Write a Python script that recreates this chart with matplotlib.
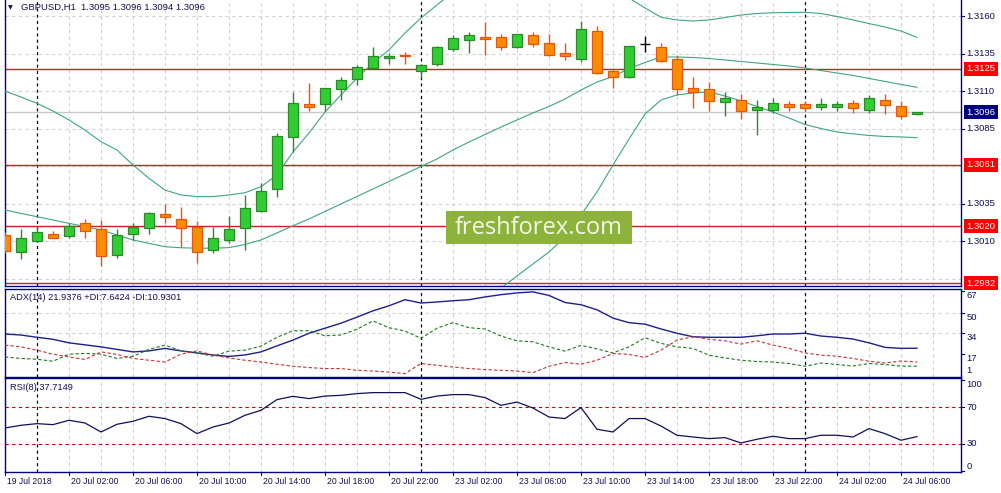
import matplotlib
matplotlib.use("Agg")
import numpy as np
import matplotlib.pyplot as plt
import matplotlib.transforms as mtransforms
from matplotlib.patches import Rectangle

# ── Data (GBPUSD H1, 19 Jul 22:00 -> 24 Jul 07:00) ───────────────────────────
OPEN = [1.30142, 1.30027, 1.30104, 1.30147, 1.30138, 1.30220, 1.30180, 1.30007, 1.30147, 1.30187,
        1.30280, 1.30247, 1.30198, 1.30042, 1.30107, 1.30187, 1.30304, 1.30447, 1.30794, 1.31014,
        1.31014, 1.31114, 1.31180, 1.31254, 1.31320, 1.31344, 1.31236, 1.31280, 1.31380, 1.31440,
        1.31460, 1.31460, 1.31398, 1.31474, 1.31420, 1.31354, 1.31314, 1.31500, 1.31236, 1.31198,
        1.31416, 1.31398, 1.31314, 1.31120, 1.31114, 1.31031, 1.31040, 1.30978, 1.30978, 1.31016,
        1.31016, 1.30998, 1.30998, 1.31022, 1.30978, 1.31042, 1.31002, 1.30950]
HIGH = [1.30162, 1.30180, 1.30194, 1.30169, 1.30224, 1.30247, 1.30240, 1.30180, 1.30220, 1.30296,
        1.30347, 1.30327, 1.30238, 1.30198, 1.30269, 1.30409, 1.30487, 1.30820, 1.31098, 1.31158,
        1.31124, 1.31198, 1.31276, 1.31398, 1.31354, 1.31362, 1.31280, 1.31402, 1.31476, 1.31494,
        1.31562, 1.31482, 1.31484, 1.31494, 1.31480, 1.31420, 1.31571, 1.31536, 1.31258, 1.31404,
        1.31469, 1.31424, 1.31342, 1.31198, 1.31160, 1.31094, 1.31082, 1.31042, 1.31054, 1.31036,
        1.31036, 1.31054, 1.31036, 1.31042, 1.31076, 1.31082, 1.31036, 1.30962]
LOW = [1.30022, 1.29982, 1.30102, 1.30124, 1.30124, 1.30124, 1.29938, 1.29987, 1.30107, 1.30147,
       1.30220, 1.30064, 1.29958, 1.30020, 1.30087, 1.30042, 1.30298, 1.30398, 1.30698, 1.30971,
       1.30971, 1.31042, 1.31142, 1.31250, 1.31280, 1.31280, 1.31187, 1.31269, 1.31371, 1.31358,
       1.31342, 1.31376, 1.31391, 1.31398, 1.31336, 1.31309, 1.31298, 1.31214, 1.31120, 1.31191,
       1.31362, 1.31296, 1.31078, 1.30991, 1.30971, 1.30936, 1.30916, 1.30809, 1.30958, 1.30971,
       1.30969, 1.30976, 1.30971, 1.30958, 1.30954, 1.30949, 1.30916, 1.30940]
CLOSE = [1.30038, 1.30120, 1.30160, 1.30124, 1.30204, 1.30167, 1.30002, 1.30140, 1.30198, 1.30287,
         1.30260, 1.30187, 1.30029, 1.30120, 1.30180, 1.30320, 1.30438, 1.30802, 1.31020, 1.30998,
         1.31120, 1.31174, 1.31260, 1.31336, 1.31334, 1.31336, 1.31276, 1.31394, 1.31454, 1.31474,
         1.31449, 1.31394, 1.31480, 1.31414, 1.31340, 1.31336, 1.31514, 1.31220, 1.31194, 1.31400,
         1.31416, 1.31300, 1.31114, 1.31098, 1.31038, 1.31054, 1.30971, 1.30994, 1.31022, 1.30998,
         1.30991, 1.31016, 1.31016, 1.30991, 1.31054, 1.31011, 1.30938, 1.30960]

BB_UPPER = [1.31102, 1.31062, 1.31020, 1.30969, 1.30909, 1.30842, 1.30764, 1.30709, 1.30609, 1.30520,
            1.30442, 1.30409, 1.30398, 1.30398, 1.30409, 1.30424, 1.30464, 1.30542, 1.30696, 1.30822,
            1.30962, 1.31076, 1.31189, 1.31289, 1.31376, 1.31489, 1.31589, 1.31676, 1.31762, 1.31829,
            1.31882, 1.31922, 1.31949, 1.31962, 1.31962, 1.31956, 1.31942, 1.31896, 1.31802, 1.31722,
            1.31656, 1.31594, 1.31576, 1.31569, 1.31576, 1.31592, 1.31609, 1.31619, 1.31624, 1.31626,
            1.31627, 1.31619, 1.31599, 1.31576, 1.31552, 1.31529, 1.31502, 1.31460]
BB_MID = [1.30309, 1.30286, 1.30264, 1.30242, 1.30220, 1.30198, 1.30176, 1.30142, 1.30109, 1.30086,
          1.30064, 1.30057, 1.30054, 1.30054, 1.30058, 1.30079, 1.30109, 1.30156, 1.30204, 1.30249,
          1.30299, 1.30349, 1.30399, 1.30449, 1.30499, 1.30549, 1.30599, 1.30649, 1.30709, 1.30762,
          1.30812, 1.30862, 1.30909, 1.30956, 1.30999, 1.31049, 1.31109, 1.31162, 1.31198, 1.31252,
          1.31292, 1.31329, 1.31329, 1.31326, 1.31319, 1.31309, 1.31299, 1.31289, 1.31279, 1.31269,
          1.31256, 1.31239, 1.31222, 1.31206, 1.31186, 1.31166, 1.31146, 1.31127]
BB_LOWER = [1.29516, 1.29509, 1.29509, 1.29516, 1.29529, 1.29556, 1.29589, 1.29576, 1.29609, 1.29649,
            1.29689, 1.29709, 1.29709, 1.29709, 1.29709, 1.29736, 1.29756, 1.29769, 1.29716, 1.29676,
            1.29636, 1.29622, 1.29616, 1.29609, 1.29622, 1.29616, 1.29609, 1.29622, 1.29656, 1.29696,
            1.29742, 1.29789, 1.29869, 1.29949, 1.30029, 1.30129, 1.30276, 1.30429, 1.30609, 1.30782,
            1.30949, 1.31042, 1.31076, 1.31089, 1.31096, 1.31069, 1.31036, 1.30999, 1.30962, 1.30922,
            1.30879, 1.30852, 1.30829, 1.30816, 1.30806, 1.30799, 1.30796, 1.30791]

ADX = [33.2, 32.4, 30.6, 29.0, 26.2, 24.6, 23.0, 21.0, 19.0, 19.8,
       21.8, 19.8, 18.2, 16.6, 15.4, 16.6, 19.0, 23.8, 28.4, 33.8,
       37.8, 41.8, 46.6, 51.6, 55.6, 60.4, 57.8, 58.6, 59.6, 60.4,
       62.6, 64.4, 65.8, 66.6, 63.8, 58.2, 56.4, 52.4, 45.8, 42.2,
       41.0, 37.2, 33.8, 31.0, 30.6, 30.6, 30.6, 31.8, 33.2, 33.2,
       33.8, 31.6, 30.6, 29.2, 26.2, 22.6, 21.8, 21.94]
PLUS_DI = [15.0, 13.8, 13.2, 11.6, 17.2, 17.8, 17.2, 13.8, 15.6, 21.0,
           24.4, 19.8, 18.2, 15.6, 19.6, 20.4, 23.6, 30.6, 35.8, 35.8,
           31.8, 32.4, 37.0, 43.6, 38.2, 35.6, 29.8, 37.8, 42.2, 38.2,
           37.2, 31.6, 27.8, 27.0, 23.0, 19.6, 24.2, 21.4, 18.2, 23.0,
           30.2, 25.8, 23.0, 21.8, 16.4, 14.2, 12.4, 11.4, 11.0, 9.8,
           7.6, 10.2, 9.0, 7.8, 9.8, 9.0, 7.8, 7.64]
MINUS_DI = [24.4, 23.0, 20.4, 17.2, 15.0, 13.0, 19.0, 17.0, 13.8, 12.4,
            11.0, 17.2, 19.8, 16.4, 14.2, 12.4, 11.0, 9.2, 7.6, 6.6,
            5.8, 5.8, 4.4, 3.8, 3.0, 1.8, 9.8, 8.4, 7.0, 5.8,
            5.0, 4.4, 3.8, 2.6, 7.6, 10.6, 9.2, 12.4, 17.8, 17.0,
            14.6, 20.4, 28.4, 31.0, 29.0, 27.8, 25.2, 27.8, 24.4, 21.8,
            18.2, 16.4, 15.6, 13.8, 11.6, 10.2, 11.8, 10.93]
RSI = [47.2, 50.2, 52.0, 50.9, 55.7, 52.7, 42.8, 51.3, 54.6, 60.1,
       57.6, 52.0, 41.0, 48.3, 52.7, 61.2, 66.7, 78.5, 82.1, 79.6,
       82.4, 83.2, 85.1, 86.2, 86.2, 86.2, 78.8, 82.4, 84.0, 84.0,
       80.7, 72.2, 75.8, 69.2, 59.3, 57.6, 69.7, 45.8, 42.8, 57.6,
       57.6, 49.4, 39.2, 37.3, 35.5, 36.6, 30.7, 34.8, 38.1, 35.5,
       35.5, 39.2, 39.2, 37.3, 46.5, 41.0, 33.7, 37.71]

LEVELS = [1.3125, 1.3061, 1.3020, 1.2982]
BID = 1.3096
PRICE_TICKS = [1.3160, 1.3135, 1.3110, 1.3085, 1.3035, 1.3010]
PRICE_GRID = [1.3160, 1.3135, 1.3110, 1.3085, 1.3060, 1.3035, 1.3010, 1.2985]

TIME_POS = [0, 4, 8, 12, 16, 20, 24, 28, 32, 36, 40, 44, 48, 52, 56]
TIME_LABELS = ["19 Jul 2018", "20 Jul 02:00", "20 Jul 06:00", "20 Jul 10:00", "20 Jul 14:00",
               "20 Jul 18:00", "20 Jul 22:00", "23 Jul 02:00", "23 Jul 06:00", "23 Jul 10:00",
               "23 Jul 14:00", "23 Jul 18:00", "23 Jul 22:00", "24 Jul 02:00", "24 Jul 06:00"]
DAY_SEPARATORS = [2, 26, 50]

# ── Style ────────────────────────────────────────────────────────────────────
W, H, DPI = 1001, 493, 100
NAVY = "#000080"
TXT = "#101050"
GRID = "#D2D2D2"
BULL, BULL_EDGE = "#32CD32", "#2A8A2A"
BEAR, BEAR_EDGE = "#FF8C00", "#E2580E"
BAND = "#3FA483"
LEVEL_RED = "#CC1F1F"
FONT = "Liberation Sans"
plt.rcParams["font.family"] = [FONT, "DejaVu Sans"]

fig = plt.figure(figsize=(W / DPI, H / DPI), dpi=DPI)
fig.patch.set_facecolor("white")

def frame(top, bottom, left=4.5, right=961):
    return [left / W, 1 - bottom / H, (right - left) / W, (bottom - top) / H]

ax_main = fig.add_axes(frame(0, 286))
ax_adx = fig.add_axes(frame(289, 377))
ax_rsi = fig.add_axes(frame(378, 472))

x = np.arange(len(OPEN))
XLIM = (-0.03, 59.75)

for ax in (ax_main, ax_adx, ax_rsi):
    ax.set_xlim(*XLIM)
    ax.set_facecolor("white")
    ax.set_xticks([])
    ax.set_yticks([])
    for s in ax.spines.values():
        s.set_color(NAVY)
        s.set_linewidth(1.0)
    # vertical grid every two hours
    for gx in range(0, 60, 2):
        if gx in DAY_SEPARATORS:
            continue
        ax.axvline(gx, color=GRID, lw=0.8, ls=(0, (3, 3)), zorder=0)
    for d in DAY_SEPARATORS:
        ax.axvline(d, color="#000020", lw=0.9, ls=(0, (2.5, 2.5)), zorder=1)
ax_main.spines["top"].set_visible(False)

# ── Main price panel ─────────────────────────────────────────────────────────
ax_main.set_ylim(1.29802, 1.31709)
for g in PRICE_GRID:
    ax_main.axhline(g, color=GRID, lw=0.8, ls=(0, (3, 3)), zorder=0)
ax_main.axhline(BID, color="#C8C8C8", lw=1.0, zorder=1)
for lv in LEVELS:
    ax_main.axhline(lv, color=LEVEL_RED, lw=1.0, zorder=2)

ax_main.plot(x, BB_UPPER, color=BAND, lw=0.8, zorder=3)
ax_main.plot(x, BB_MID, color=BAND, lw=0.8, zorder=3)
ax_main.plot(x, BB_LOWER, color=BAND, lw=0.8, zorder=3)

o, h, l, c = map(np.array, (OPEN, HIGH, LOW, CLOSE))
bull = c > o
bear = c < o
doji = c == o
ax_main.vlines(x[bull], l[bull], h[bull], color=BULL_EDGE, lw=1.0, zorder=4)
ax_main.vlines(x[bear], l[bear], h[bear], color=BEAR_EDGE, lw=1.0, zorder=4)
ax_main.vlines(x[doji], l[doji], h[doji], color="black", lw=1.0, zorder=4)
ax_main.hlines(c[doji], x[doji] - 0.31, x[doji] + 0.31, color="black", lw=1.0, zorder=4)
ax_main.bar(x[bull], (c - o)[bull], bottom=o[bull], width=0.62,
            color=BULL, edgecolor=BULL_EDGE, lw=0.9, zorder=5)
ax_main.bar(x[bear], (o - c)[bear], bottom=c[bear], width=0.62,
            color=BEAR, edgecolor=BEAR_EDGE, lw=0.9, zorder=5)

right_tr = mtransforms.blended_transform_factory(ax_main.transAxes, ax_main.transData)
LBL_X = 1 + 5.5 / 956.5
for p in PRICE_TICKS:
    ax_main.plot([1.0, 1 + 3.5 / 956.5], [p, p], color=NAVY, lw=0.8,
                 transform=right_tr, clip_on=False)
    ax_main.text(LBL_X, p, f"{p:.4f}", transform=right_tr, ha="left", va="center",
                 fontsize=6.8, color=TXT)
for lv in LEVELS:
    ax_main.text(LBL_X, lv, f"{lv:.4f}", transform=right_tr, ha="left", va="center",
                 fontsize=6.8, color="white", zorder=10,
                 bbox=dict(boxstyle="square,pad=0.28", fc="#FF0000", ec="none"))
ax_main.text(LBL_X, BID, f"{BID:.4f}", transform=right_tr, ha="left", va="center",
             fontsize=6.8, color="white", zorder=10,
             bbox=dict(boxstyle="square,pad=0.28", fc="#000080", ec="none"))

fig.text(8 / W, 1 - 7.5 / H, "\u25BC", fontsize=4.5, color=TXT, ha="left", va="center",
         family="DejaVu Sans")
fig.text(21 / W, 1 - 7.5 / H, "GBPUSD,H1  1.3095 1.3096 1.3094 1.3096", fontsize=6.8,
         color=TXT, ha="left", va="center")

# ── ADX panel ────────────────────────────────────────────────────────────────
ax_adx.set_ylim(-0.9, 68.9)
for g in (50, 34):
    ax_adx.axhline(g, color=GRID, lw=0.8, ls=(0, (3, 3)), zorder=0)
ax_adx.plot(x, ADX, color="#1E1E8C", lw=1.0, zorder=3)
ax_adx.plot(x, PLUS_DI, color="#1E7A1E", lw=0.8, ls=(0, (3, 2)), zorder=3)
ax_adx.plot(x, MINUS_DI, color="#C83232", lw=0.8, ls=(0, (3, 2)), zorder=3)
adx_tr = mtransforms.blended_transform_factory(ax_adx.transAxes, ax_adx.transData)
for v in (67, 50, 34, 17):
    ax_adx.plot([1.0, 1 + 3.5 / 956.5], [v, v], color=NAVY, lw=0.8, transform=adx_tr, clip_on=False)
    ax_adx.text(LBL_X, v, str(v), transform=adx_tr, ha="left", va="top", fontsize=6.8, color=TXT)
ax_adx.text(LBL_X, 1, "1", transform=adx_tr, ha="left", va="bottom", fontsize=6.8, color=TXT)
ax_adx.text(6 / 956.5, 0.9, "ADX(14) 21.9376 +DI:7.6424 -DI:10.9301", transform=ax_adx.transAxes,
            ha="left", va="center", fontsize=6.7, color=TXT)

# ── RSI panel ────────────────────────────────────────────────────────────────
ax_rsi.set_ylim(-1.3, 102.3)
for lv in (70, 30):
    ax_rsi.axhline(lv, color="#C00000", lw=0.8, ls=(0, (3, 3)), zorder=1)
ax_rsi.plot(x, RSI, color="#10105A", lw=0.9, zorder=3)
rsi_tr = mtransforms.blended_transform_factory(ax_rsi.transAxes, ax_rsi.transData)
for v, va in ((100, "top"), (70, "center"), (30, "center"), (0, "bottom")):
    ax_rsi.plot([1.0, 1 + 3.5 / 956.5], [v, v], color=NAVY, lw=0.8, transform=rsi_tr, clip_on=False)
    ax_rsi.text(LBL_X, v, str(v), transform=rsi_tr, ha="left", va=va, fontsize=6.8, color=TXT)
ax_rsi.text(6 / 956.5, 0.9, "RSI(8) 37.7149", transform=ax_rsi.transAxes,
            ha="left", va="center", fontsize=6.7, color=TXT)

# ── Time axis ────────────────────────────────────────────────────────────────
bot_tr = mtransforms.blended_transform_factory(ax_rsi.transData, ax_rsi.transAxes)
for pos, lab in zip(TIME_POS, TIME_LABELS):
    ax_rsi.plot([pos, pos], [0, -3 / 94], color=NAVY, lw=0.8, transform=bot_tr, clip_on=False)
    ax_rsi.text(pos + 0.1, -9.5 / 94, lab, transform=bot_tr, ha="left", va="center",
                fontsize=6.2, color=TXT)

# ── Watermark ────────────────────────────────────────────────────────────────
fig.patches.append(Rectangle((446 / W, 1 - 244 / H), 186 / W, 33 / H, transform=fig.transFigure,
                             facecolor="#8DB33D", edgecolor="none", zorder=20))
fig.text(539 / W, 1 - 228 / H, "freshforex.com", fontsize=17, color="#F4F8EA",
         ha="center", va="center", family=["Open Sans", "DejaVu Sans"], zorder=21)

fig.savefig("out.png", dpi=DPI, facecolor="white")
